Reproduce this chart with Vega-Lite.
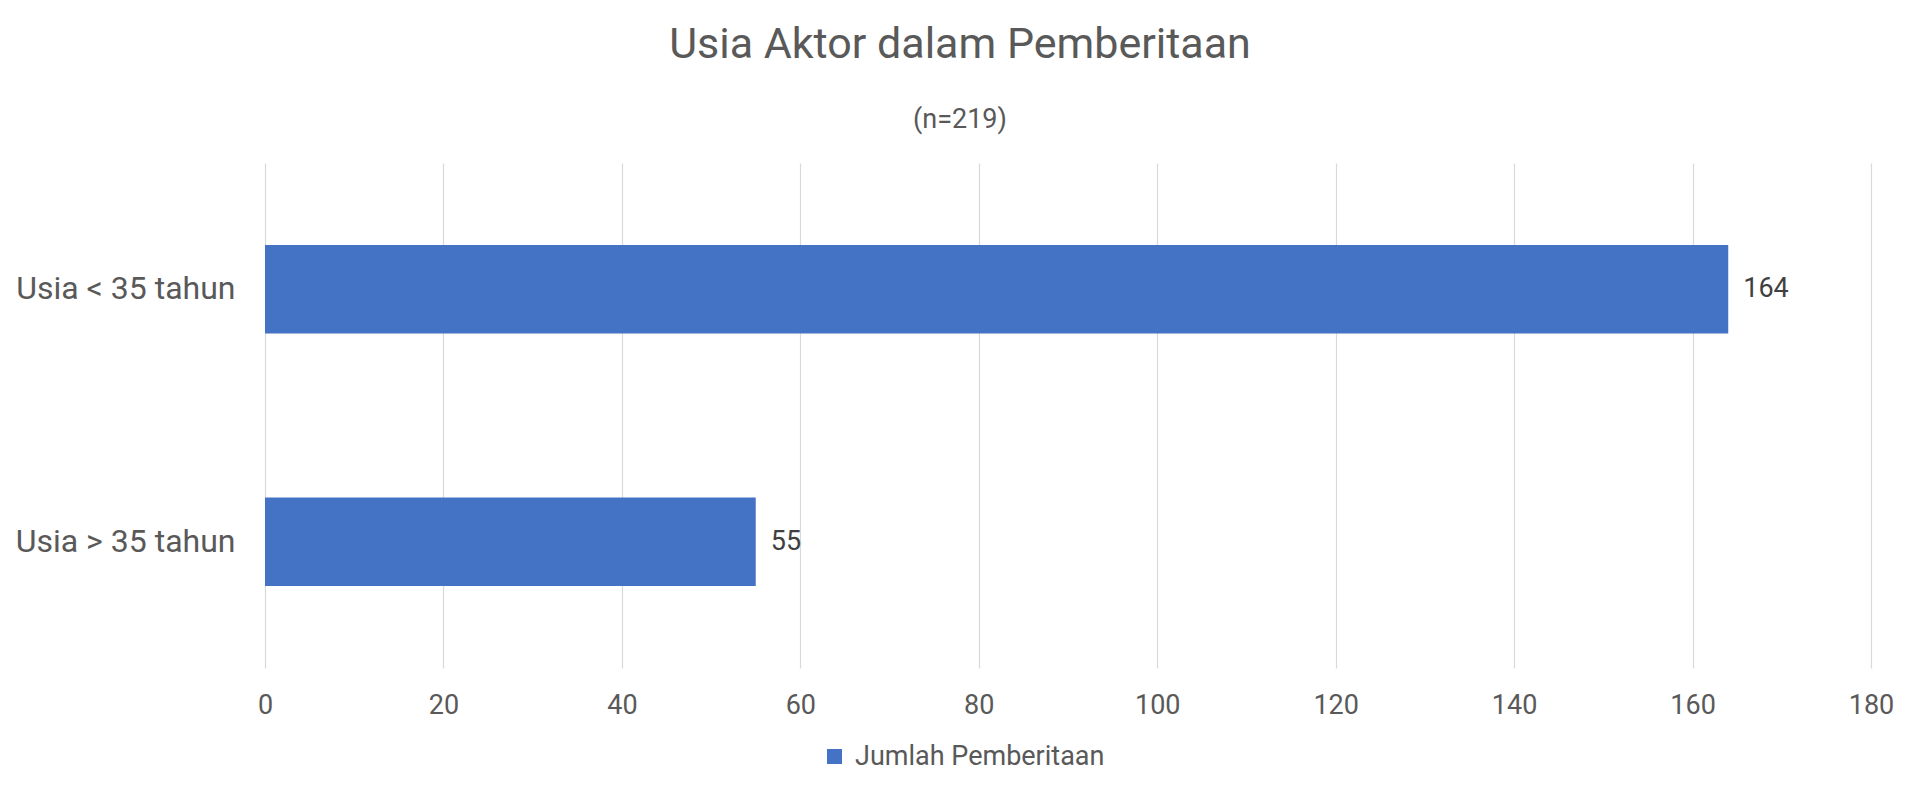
{
  "$schema": "https://vega.github.io/schema/vega-lite/v6.json",
  "autosize": "none",
  "width": 1606,
  "height": 505,
  "padding": {"left": 265, "top": 163, "right": 49, "bottom": 126},
  "background": "white",
  "config": {
    "font": "Roboto",
    "view": {"stroke": null},
    "axis": {"labelFont": "Roboto", "labelColor": "#595959"}
  },
  "title": {
    "text": "Usia Aktor dalam Pemberitaan",
    "subtitle": "(n=219)",
    "font": "Roboto",
    "fontSize": 43,
    "fontWeight": "normal",
    "color": "#595959",
    "subtitleFont": "Roboto",
    "subtitleFontSize": 27,
    "subtitleColor": "#595959",
    "subtitlePadding": 40,
    "anchor": "middle",
    "dx": -108,
    "offset": 30
  },
  "data": {
    "values": [
      {"Usia": "Usia < 35 tahun", "Jumlah": 164, "Seri": "Jumlah Pemberitaan"},
      {"Usia": "Usia > 35 tahun", "Jumlah": 55, "Seri": "Jumlah Pemberitaan"}
    ]
  },
  "encoding": {
    "y": {
      "field": "Usia",
      "type": "nominal",
      "sort": null,
      "scale": {"paddingInner": 0.65, "paddingOuter": 0.325},
      "axis": {
        "title": null,
        "domain": false,
        "ticks": false,
        "grid": false,
        "labelFontSize": 32,
        "labelPadding": 30,
        "labelLimit": 0,
        "labelColor": "#595959"
      }
    },
    "x": {
      "field": "Jumlah",
      "type": "quantitative",
      "scale": {"domain": [0, 180], "nice": false},
      "axis": {
        "title": null,
        "values": [0, 20, 40, 60, 80, 100, 120, 140, 160, 180],
        "domain": false,
        "ticks": false,
        "grid": true,
        "gridColor": "#d9d9d9",
        "gridWidth": 1.2,
        "labelFontSize": 27,
        "labelPadding": 24,
        "labelColor": "#595959",
        "labelFlush": false
      }
    }
  },
  "layer": [
    {
      "mark": {"type": "bar", "color": "#4472C4"},
      "encoding": {
        "color": {
          "field": "Seri",
          "type": "nominal",
          "scale": {"range": ["#4472C4"]},
          "legend": {
            "title": null,
            "orient": "none",
            "legendX": 556,
            "legendY": 580,
            "symbolType": "square",
            "symbolSize": 225,
            "symbolStrokeWidth": 0,
            "labelFontSize": 27,
            "labelColor": "#595959",
            "labelFont": "Roboto",
            "labelLimit": 0,
            "labelOffset": 7
          }
        }
      }
    },
    {
      "mark": {"type": "text", "align": "left", "baseline": "middle", "dx": 15, "fontSize": 27, "color": "#404040", "font": "Roboto"},
      "encoding": {"text": {"field": "Jumlah", "type": "quantitative"}}
    }
  ]
}
